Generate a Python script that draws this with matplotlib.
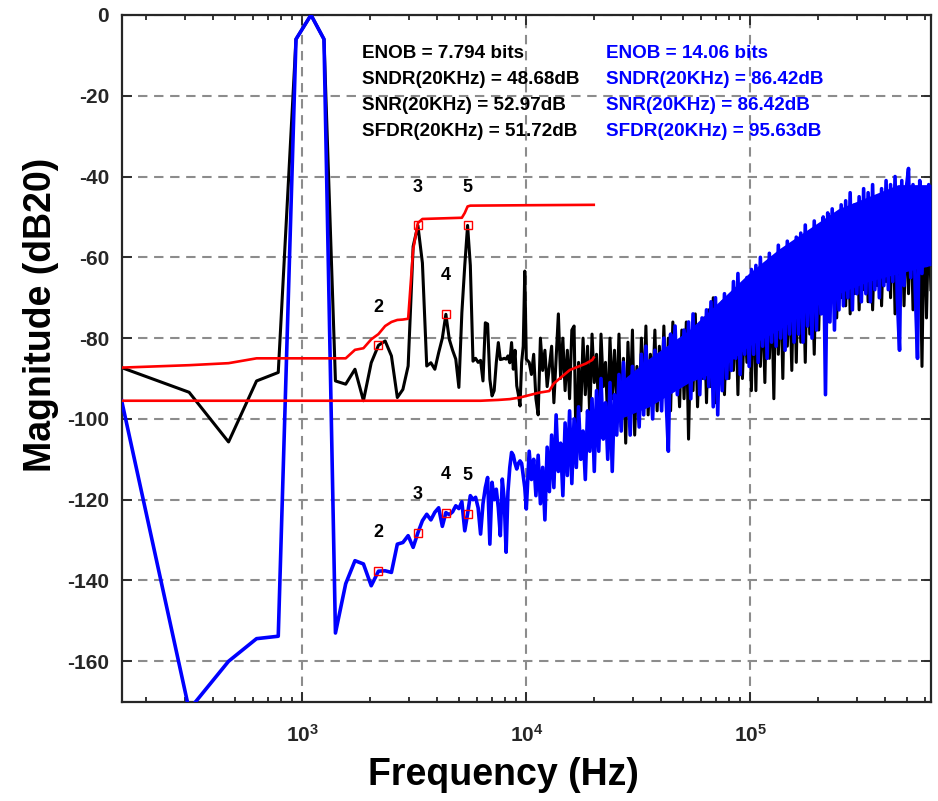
import numpy as np
import matplotlib.pyplot as plt

plt.rcParams['font.family'] = ['Liberation Sans', 'DejaVu Sans']
plt.rcParams['font.weight'] = 'bold'
plt.rcParams['axes.unicode_minus'] = False
plt.rcParams['mathtext.fontset'] = 'custom'
plt.rcParams['mathtext.rm'] = 'Liberation Sans:bold'
plt.rcParams['mathtext.it'] = 'Liberation Sans:bold'
plt.rcParams['mathtext.bf'] = 'Liberation Sans:bold'

# FFT grid: 8192 points at fs = 1.28 MHz -> 156.25 Hz per bin
bin_hz = 156.25
f_max = 640e3

# spectra, one value per bin for bins 1..64 (dB)
black_low = [
    -87.3, -93.4, -105.7, -90.6, -88.5, -6.0, 0.0, -6.0, -90.6, -91.4,
    -87.7, -95.5, -86.1, -81.8, -80.7, -84.4, -94.7, -92.7, -86.9, -57.3,
    -52.1, -61.4, -86.9, -86.1, -87.7, -83.6, -80.0, -74.1, -80.3, -83.0,
    -85.2, -92.2, -73.7, -62.0, -52.1, -62.0, -85.7, -85.0, -86.0, -85.5,
    -90.6, -76.2, -76.5, -90.2, -94.3, -93.0, -86.1, -81.1, -85.3, -85.2,
    -85.0, -85.2, -84.4, -86.1, -81.1, -87.7, -83.0, -91.8, -94.0, -96.8,
    -86.0, -82.0, -63.4, -85.2,
]
blue_low = [
    -95.5, -172.0, -160.0, -154.4, -153.8, -6.0, 0.0, -6.0, -153.0, -140.8,
    -135.1, -135.9, -141.3, -137.7, -137.6, -138.0, -131.0, -130.6, -128.9, -131.8,
    -128.2, -125.2, -123.6, -125.0, -123.1, -122.0, -126.6, -123.2, -123.7, -123.0,
    -121.5, -122.2, -120.5, -127.7, -123.5, -119.0, -120.0, -119.4, -122.0, -128.5,
    -121.0, -117.0, -114.5, -131.0, -115.7, -120.0, -117.4, -122.0, -128.9, -114.9,
    -120.0, -133.0, -118.0, -112.0, -108.3, -109.0, -111.0, -112.4, -111.0, -110.4,
    -111.0, -114.1, -117.0, -122.3,
]

# dense part above 10 kHz, read as a zigzag on a log-spaced grid
hf_start = 10.3e3
black_high = [
    -86, -89, -84, -95, -99, -80, -88, -83, -92, -87,
    -82, -96, -85, -74, -90, -80, -93, -83, -95, -78,
    -77, -112, -86, -98, -80, -94, -82, -100, -79, -91,
    -84, -100, -79, -92, -86, -101, -80, -95, -83, -97,
    -79, -102, -85, -106, -81, -97, -78, -104, -87, -99,
    -80, -96, -77, -99, -84, -93, -78, -98, -82, -95,
    -77, -94, -80, -98, -76, -92, -83, -97, -78, -95,
    -76, -105, -79, -93, -74, -97, -81, -90, -75, -96,
    -73, -92, -70, -96, -77, -89, -71, -94, -75, -90,
    -69, -88, -72, -94, -67, -90, -74, -86, -68, -93,
    -66, -93, -63, -87, -70, -91, -64, -85, -68, -95,
    -61, -84, -65, -90, -59, -82, -66, -88, -60, -86,
    -58, -81, -62, -86, -56, -79, -63, -84, -57, -78,
    -55, -74, -52, -76, -59, -71, -53, -75, -57, -70,
    -52, -72, -50, -74, -56, -69, -51, -73, -55, -68,
    -50, -71, -48, -73, -54, -67, -49, -72, -53, -66,
    -49, -70, -47, -74, -52, -66, -48, -72, -51, -69,
    -48, -73, -46, -70, -51, -87, -47, -75, -50, -68,
]
blue_high = [
    -108, -115, -110, -119, -109, -121, -112, -125, -107, -118,
    -104, -117, -99, -113, -106, -119, -101, -114, -98, -116,
    -100, -112, -97, -110, -103, -115, -98, -108, -95, -113,
    -93, -108, -90, -105, -96, -110, -91, -113, -94, -104,
    -89, -103, -86, -99, -91, -104, -87, -98, -90, -102,
    -84, -99, -82, -96, -88, -100, -83, -94, -86, -98,
    -80, -95, -108, -79, -92, -77, -94, -82, -90, -78,
    -91, -76, -95, -74, -89, -78, -94, -75, -90, -73,
    -92, -71, -97, -70, -99, -74, -93, -69, -90, -72,
    -88, -66, -85, -64, -89, -68, -84, -65, -87, -63,
    -84, -62, -86, -60, -82, -63, -85, -59, -81, -61,
    -82, -57, -80, -59, -83, -56, -79, -58, -81, -55,
    -79, -54, -81, -52, -77, -55, -80, -51, -78, -53,
    -74, -50, -94, -49, -76, -48, -78, -51, -73, -47,
    -72, -46, -70, -44, -73, -47, -69, -45, -71, -43,
    -69, -44, -71, -42, -68, -45, -70, -43, -67, -41,
    -68, -42, -66, -40, -70, -83, -41, -67, -43, -38,
    -65, -42, -68, -85, -41, -64, -44, -62, -42, -60,
]

# solid core of the blue noise band (Hz, top dB, bottom dB)
blue_core_f = [26e3, 35.3e3, 53.2e3, 72.3e3, 98.2e3, 133.6e3, 181.6e3,
               246.9e3, 335.7e3, 456.1e3, 640e3]
blue_core_top = [-91, -85, -78, -71, -64, -58, -53, -48, -45, -42, -42]
blue_core_bot = [-100, -97, -91, -88, -82, -78, -73, -69, -66, -64, -62]

# red integrated curves (bin index, dB)
red_top_bins = [1, 2, 3, 4, 10, 11, 12, 13, 14, 15, 16, 17, 18, 19, 20, 21, 22,
                33, 34, 35, 36, 64, 128]
red_top_db = [-87.3, -86.7, -86.2, -85.0, -85.0, -82.9, -82.5, -80.3, -79.0, -77.0,
              -76.0, -75.5, -75.4, -75.2, -58.1, -51.5, -50.5, -50.2, -49.0, -47.4,
              -47.2, -47.1, -47.0]
red_bot_bins = [1, 40, 48, 54, 60, 64, 73, 81, 85, 100, 118, 126, 128]
red_bot_db = [-95.5, -95.5, -95.3, -95.1, -94.7, -94.3, -93.5, -93.1, -91.2, -87.9,
              -86.3, -85.4, -84.8]

harm_bins = [14, 21, 28, 35]
harm_labels = ['2', '3', '4', '5']

black_stats = ['ENOB = 7.794 bits', 'SNDR(20KHz) = 48.68dB',
               'SNR(20KHz) = 52.97dB', 'SFDR(20KHz) = 51.72dB']
blue_stats = ['ENOB = 14.06 bits', 'SNDR(20KHz) = 86.42dB',
              'SNR(20KHz) = 86.42dB', 'SFDR(20KHz) = 95.63dB']

# frequency axes
f_low = np.arange(1, len(black_low) + 1) * bin_hz
f_high = np.geomspace(hf_start, f_max, len(black_high))
f_all = np.concatenate([f_low, f_high])
black_all = np.concatenate([black_low, black_high])
blue_all = np.concatenate([blue_low, blue_high])

fig = plt.figure(figsize=(9.38, 8.01), dpi=100)
ax = fig.add_axes([0.1297, 0.1240, 0.8628, 0.8573])

ax.semilogx(f_all, black_all, color='black', lw=2.2, zorder=2)
ax.fill_between(blue_core_f, blue_core_top, blue_core_bot, color='#0000ff', lw=0, zorder=3)
ax.semilogx(f_all, blue_all, color='#0000ff', lw=2.6, zorder=3)
ax.semilogx(np.array(red_top_bins) * bin_hz, red_top_db, color='#ff0000', lw=1.9, zorder=4)
ax.semilogx(np.array(red_bot_bins) * bin_hz, red_bot_db, color='#ff0000', lw=1.9, zorder=4)

# harmonic markers and labels
for b, lab in zip(harm_bins, harm_labels):
    for series in (black_low, blue_low):
        y = series[b - 1]
        ax.plot(b * bin_hz, y, 's', ms=5.5, mfc='none', mec='#ff0000', mew=1.0, zorder=5)
        ax.text(b * bin_hz, y + 9.5, lab, ha='center', va='center',
                fontsize=13, fontweight='bold', color='black', zorder=6)

for i, (s1, s2) in enumerate(zip(black_stats, blue_stats)):
    y = -9.5 - 6.45 * i
    ax.text(1848, y, s1, ha='left', va='center', fontsize=13.6, fontweight='bold', color='black')
    ax.text(22680, y, s2, ha='left', va='center', fontsize=13.6, fontweight='bold', color='#0000ff')

ax.set_xlim(bin_hz, f_max)
ax.set_ylim(-170, 0)
ax.set_yticks(np.arange(-160, 1, 20))
ax.set_xticks([1e3, 1e4, 1e5])

ax.grid(True, which='major', color='#8c8c8c', lw=1.5, linestyle=(0, (4.5, 3.2)))
ax.set_axisbelow(True)

ax.tick_params(which='both', direction='in', top=True, right=True,
               colors='#262626', labelsize=15, width=1.3)
ax.tick_params(which='major', length=7, pad=9)
ax.tick_params(axis='x', which='major', pad=16)
ax.tick_params(which='minor', length=3.5)
for lab in ax.get_xticklabels() + ax.get_yticklabels():
    lab.set_fontweight('bold')
for sp in ax.spines.values():
    sp.set_color('#262626')
    sp.set_linewidth(1.6)

ax.set_xlabel('Frequency (Hz)', fontsize=27, fontweight='bold')
ax.set_ylabel('Magnitude (dB20)', fontsize=27, fontweight='bold')
ax.xaxis.label.set_va('center')
ax.yaxis.label.set_va('center')
ax.xaxis.set_label_coords(0.472, -0.107)
ax.yaxis.set_label_coords(-0.10, 0.563)

fig.savefig('out.png', dpi=100)
